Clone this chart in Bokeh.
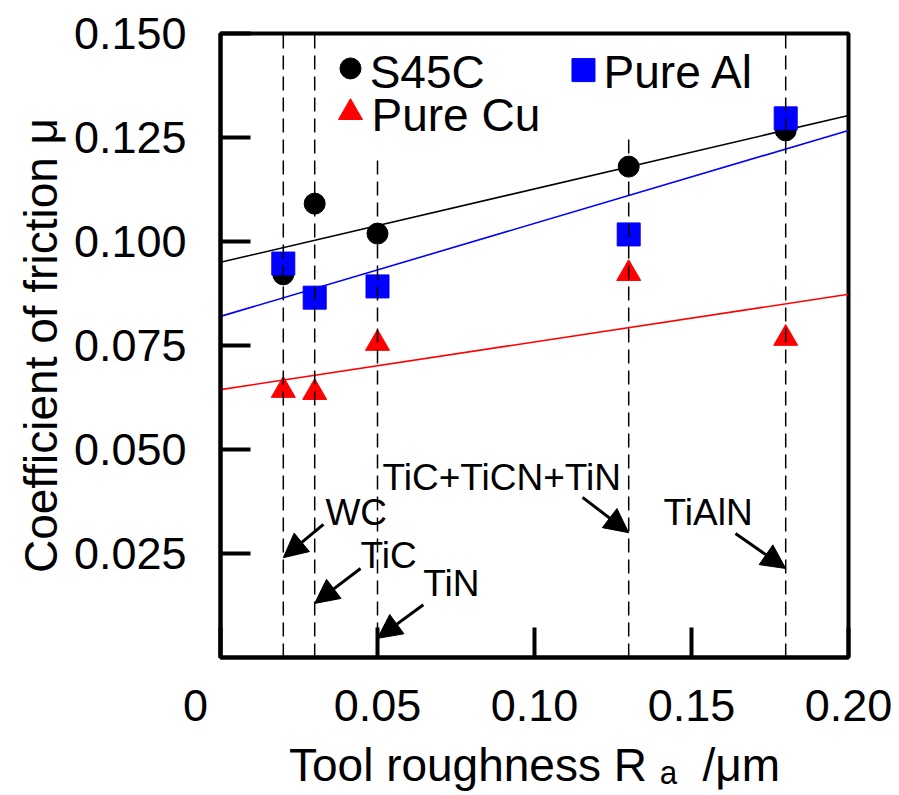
from bokeh.plotting import figure
from bokeh.models import Arrow, NormalHead, FixedTicker, Range1d
from bokeh.core.properties import value
from bokeh.embed import file_html
from bokeh.resources import INLINE

# ---- data ----
roughness = [0.02, 0.03, 0.05, 0.13, 0.18]
mu_s45c = [0.0921, 0.1091, 0.1019, 0.1180, 0.1267]
mu_al = [0.0947, 0.0865, 0.0892, 0.1017, 0.1296]
mu_cu = [0.0642, 0.0637, 0.0755, 0.0923, 0.0767]

fit_x = [0.0, 0.2]
fit_s45c = [0.0950, 0.1303]
fit_al = [0.0820, 0.1267]
fit_cu = [0.0644, 0.0873]

coating_names = ["WC", "TiC", "TiN", "TiC+TiCN+TiN", "TiAlN"]
coating_x = [0.02, 0.03, 0.05, 0.13, 0.18]
guide_top = [0.150, 0.150, 0.1202, 0.125, 0.150]

x_ticks = [0.0, 0.05, 0.10, 0.15, 0.20]
x_tick_labels = ["0\u00a0\u00a0\u00a0\u00a0", "0.05", "0.10", "0.15", "0.20"]
y_ticks = [0.025, 0.05, 0.075, 0.1, 0.125, 0.15]
y_tick_labels = ["0.025", "0.050", "0.075", "0.100", "0.125", "0.150"]

series_names = ["S45C", "Pure Al", "Pure Cu"]

FONT = "Liberation Sans"

p = figure(width=899, height=795, output_backend="svg", toolbar_location=None,
           x_range=Range1d(0, 0.2), y_range=Range1d(0, 0.15),
           min_border_left=220, min_border_right=51, min_border_top=33, min_border_bottom=138)
p.background_fill_color = "white"
p.border_fill_color = "white"
p.xgrid.visible = False
p.ygrid.visible = False
p.outline_line_color = "black"
p.outline_line_width = 4

# axes
for ax in (p.xaxis[0], p.yaxis[0]):
    ax.axis_line_width = 4
    ax.axis_line_color = "black"
    ax.major_tick_in = 30
    ax.major_tick_out = 0
    ax.major_tick_line_width = 4
    ax.major_tick_line_color = "black"
    ax.minor_tick_line_color = None
    ax.major_label_text_font = FONT
    ax.major_label_text_font_size = "45px"
    ax.major_label_text_color = "black"
    ax.axis_label_text_font = FONT
    ax.axis_label_text_font_size = "46px"
    ax.axis_label_text_font_style = "normal"
    ax.axis_label_text_color = "black"

p.xaxis.ticker = FixedTicker(ticks=x_ticks)
p.xaxis.major_label_overrides = {t: l for t, l in zip(x_ticks, x_tick_labels)}
p.xaxis.major_label_standoff = 22
p.xaxis.axis_label = "Tool roughness R\u00a0\u2090\u00a0\u00a0/\u03bcm"
p.xaxis.axis_label_standoff = 5

p.yaxis.ticker = FixedTicker(ticks=y_ticks)
p.yaxis.major_label_overrides = {t: l for t, l in zip(y_ticks, y_tick_labels)}
p.yaxis.major_label_standoff = 34
p.yaxis.axis_label = "Coefficient of friction \u03bc"
p.yaxis.axis_label_standoff = 4

# fit lines
p.line(fit_x, fit_s45c, line_color="black", line_width=1.6)
p.line(fit_x, fit_al, line_color="#0000ff", line_width=1.6)
p.line(fit_x, fit_cu, line_color="#ff0000", line_width=1.6)

# markers
p.scatter(roughness, mu_s45c, marker="circle", size=21, fill_color="black", line_color="black")
p.scatter(roughness, mu_al, marker="square", size=23, fill_color="#0000ff", line_color="#0000ff")
p.scatter(roughness, mu_cu, marker="triangle", size=24, fill_color="#ff0000", line_color="#ff0000")

# dashed guide lines
p.segment(x0=coating_x, y0=[0] * len(coating_x), x1=coating_x, y1=guide_top,
          line_color="black", line_width=1.5, line_dash="14 7")

# legend (manual)
p.scatter([0.0414], [0.1416], marker="circle", size=21, fill_color="black", line_color="black")
p.scatter([0.1156], [0.1412], marker="square", size=23, fill_color="#0000ff", line_color="#0000ff")
p.scatter([0.0414], [0.1310], marker="triangle", size=24, fill_color="#ff0000", line_color="#ff0000")
p.text(x=[0.0475, 0.1220, 0.0481], y=[0.1408, 0.1408, 0.1305], text=series_names,
       text_font=value(FONT), text_font_size="46px", text_color="black",
       text_align="left", text_baseline="alphabetic")

# coating annotations
text_pos = [(0.0334, 0.0348), (0.0446, 0.0245), (0.0646, 0.0178), (0.0516, 0.0432), (0.1411, 0.0348)]
arrow_start = [(0.0328, 0.0320), (0.0446, 0.0214), (0.0646, 0.0127), (0.1153, 0.0385), (0.1640, 0.0298)]
arrow_tip_y = [0.0240, 0.0130, 0.0046, 0.0300, 0.0214]
p.text(x=[t[0] for t in text_pos], y=[t[1] for t in text_pos], text=coating_names,
       text_font=value(FONT), text_font_size="37px", text_color="black",
       text_align="left", text_baseline="alphabetic")
for (sx, sy), tx, ty in zip(arrow_start, coating_x, arrow_tip_y):
    p.add_layout(Arrow(end=NormalHead(size=24, fill_color="black", line_color="black", line_width=1),
                       x_start=sx, y_start=sy, x_end=tx, y_end=ty,
                       line_color="black", line_width=3))

open("out.html", "w").write(file_html(p, INLINE))
